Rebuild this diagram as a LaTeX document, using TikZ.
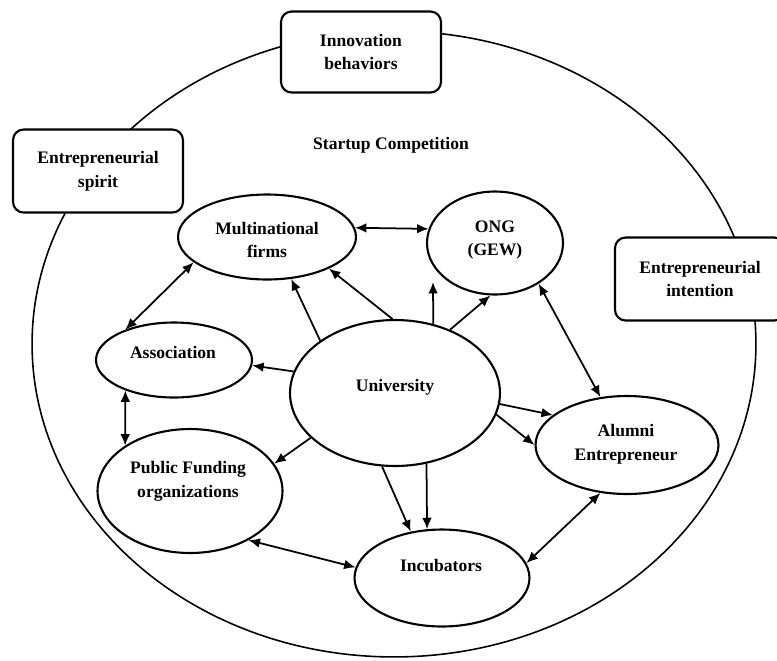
\documentclass[tikz,border=0pt]{standalone}
\usepackage{fontspec}
\setmainfont{Liberation Serif}
\usepackage{tikz}
\usetikzlibrary{shapes.geometric}
\usetikzlibrary{arrows, arrows.meta}
\tikzset{
    actor/.style={draw, ellipse, line width=1.2pt, inner sep=0pt},
    frame/.style={draw, fill=white, rounded corners=6pt, line width=1.2pt, inner sep=0pt, align=center, font=\fontsize{10}{13.6}\selectfont\bfseries},
    lbl/.style={align=center, font=\fontsize{10}{13.6}\selectfont\bfseries},
    link/.style={line width=1pt, -{Latex[length=6.5pt, width=5.5pt]}},
    twoway/.style={line width=1pt, {Latex[length=6.5pt, width=5.5pt]}-{Latex[length=6.5pt, width=5.5pt]}}
}

\begin{document}
\begin{tikzpicture}[x=0.02cm, y=-0.02cm]
    \useasboundingbox (0,0) rectangle (777,660);
    \coordinate (arena) at (394,344);
    \coordinate (vertexM) at (267,237);
    \coordinate (vertexO) at (495,243);
    \coordinate (vertexA) at (174,360);
    \coordinate (vertexU) at (395,393);
    \coordinate (vertexL) at (627,445);
    \coordinate (vertexP) at (190,491);
    \coordinate (vertexI) at (442,578);
    %
    \node[draw, ellipse, line width=0.9pt, inner sep=0pt, minimum width=14.48cm, minimum height=12.52cm] at (arena) (nodeArena) {};
    \node[lbl] at (391,145) (textArena) {Startup Competition};
    %
    \node[frame, minimum width=3.2cm, minimum height=1.62cm] at (361,52) (nodeInno) {Innovation\\behaviors};
    \node[frame, minimum width=3.4cm, minimum height=1.66cm] at (98,171) (nodeSpirit) {Entrepreneurial\\spirit};
    \node[frame, minimum width=3.4cm, minimum height=1.66cm] at (700,279) (nodeIntent) {Entrepreneurial\\intention};
    %
    \node[actor, minimum width=3.56cm, minimum height=1.7cm] at (vertexM) (nodeM) {};
    \node[actor, minimum width=2.72cm, minimum height=2.06cm] at (vertexO) (nodeO) {};
    \node[actor, minimum width=3.12cm, minimum height=1.5cm] at (vertexA) (nodeA) {};
    \node[actor, minimum width=4.2cm, minimum height=2.92cm] at (vertexU) (nodeU) {};
    \node[actor, minimum width=3.66cm, minimum height=1.96cm] at (vertexL) (nodeL) {};
    \node[actor, minimum width=3.7cm, minimum height=2.48cm] at (vertexP) (nodeP) {};
    \node[actor, minimum width=3.5cm, minimum height=1.94cm] at (vertexI) (nodeI) {};
    %
    \node[lbl] at (267,240) (textM) {Multinational\\firms};
    \node[lbl] at (495,240) (textO) {ONG\\(GEW)};
    \node[lbl] at (173,352) (textA) {Association};
    \node[lbl] at (395,387) (textU) {University};
    \node[lbl] at (626,444) (textL) {Alumni\\Entrepreneur};
    \node[lbl] at (188,481) (textP) {Public Funding\\organizations};
    \node[lbl] at (441,565) (textI) {Incubators};
    %
    \coordinate (tipO) at (433,282);
    %
    \draw[twoway] (nodeM.6) -- (nodeO.168);
    \draw[twoway] (nodeM.199) -- (nodeA.148);
    \draw[twoway] (nodeO.-43) -- (nodeL.119);
    \draw[twoway] (nodeA.212) -- (nodeP.145);
    \draw[twoway] (nodeP.-40) -- (nodeI.173);
    \draw[twoway] (nodeI.10) -- (nodeL.241);
    %
    \draw[link] (nodeU.145) -- (nodeM.-60);
    \draw[link] (nodeU.92) -- (nodeM.-27);
    \draw[link] (nodeU.61) -- (tipO);
    \draw[link] (nodeU.49) -- (nodeO.-95);
    \draw[link] (nodeU.168) -- (nodeA.-4);
    \draw[link] (nodeU.-6) -- (nodeL.158);
    \draw[link] (nodeU.-12) -- (nodeL.180);
    \draw[link] (nodeU.208) -- (nodeP.18);
    \draw[link] (nodeU.-100) -- (nodeI.124);
    \draw[link] (nodeU.-66) -- (nodeI.107);
\end{tikzpicture}
\end{document}
